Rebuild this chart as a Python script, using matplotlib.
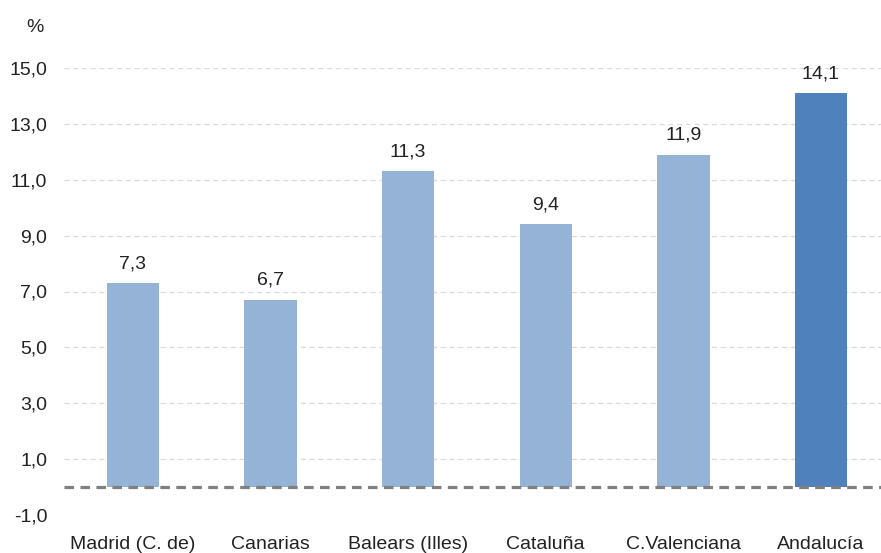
import matplotlib
matplotlib.use("Agg")
import matplotlib.pyplot as plt
import numpy as np

# ── Data ──────────────────────────────────────────────────────────────────────
regions = ["Madrid (C. de)", "Canarias", "Balears (Illes)", "Cataluña",
           "C.Valenciana", "Andalucía"]
values = [7.3, 6.7, 11.3, 9.4, 11.9, 14.1]
highlight = "Andalucía"
y_ticks = [-1, 1, 3, 5, 7, 9, 11, 13, 15]

color_light = "#95B3D7"
color_dark = "#4F81BD"

plt.rcParams["font.family"] = ["Liberation Sans", "DejaVu Sans"]

W, H = 881, 553
fig = plt.figure(figsize=(W / 100, H / 100), dpi=100)
# axes placed in pixels: left 64, right 881, y=-1 at 515, y=15 at 68
ax = fig.add_axes([64 / W, (H - 515) / H, (W - 64) / W, (515 - 68) / H])

x = np.arange(len(regions))
colors = [color_dark if r == highlight else color_light for r in regions]
bars = ax.bar(x, values, width=0.38, color=colors, zorder=2)

for xi, v in zip(x, values):
    ax.annotate(f"{v:.1f}".replace(".", ","), (xi, v), xytext=(0, 8),
                textcoords="offset points", ha="center", va="bottom",
                fontsize=14, color="#222222")

ax.axhline(0, color="#808080", linestyle=(0, (3, 2)), linewidth=2.3, zorder=3)

ax.set_xlim(-0.5, (W - 133) / 137.6)
ax.set_ylim(-1, 15)
ax.set_yticks(y_ticks)
ax.set_yticklabels([f"{v:.1f}".replace(".", ",") for v in y_ticks])
ax.set_xticks(x)
ax.set_xticklabels(regions)
ax.tick_params(axis="both", length=0, labelsize=14, colors="#222222")
ax.tick_params(axis="y", pad=12)
ax.tick_params(axis="x", pad=15)

ax.yaxis.grid(True, color="#D9D9D9", linestyle=(0, (4, 3)), linewidth=0.9,
              zorder=0)
ax.set_axisbelow(True)
for s in ax.spines.values():
    s.set_visible(False)

fig.text(35 / W, 1 - 28 / H, "%", ha="center", va="center", fontsize=14,
         color="#222222")

fig.savefig("out.png", dpi=100)
